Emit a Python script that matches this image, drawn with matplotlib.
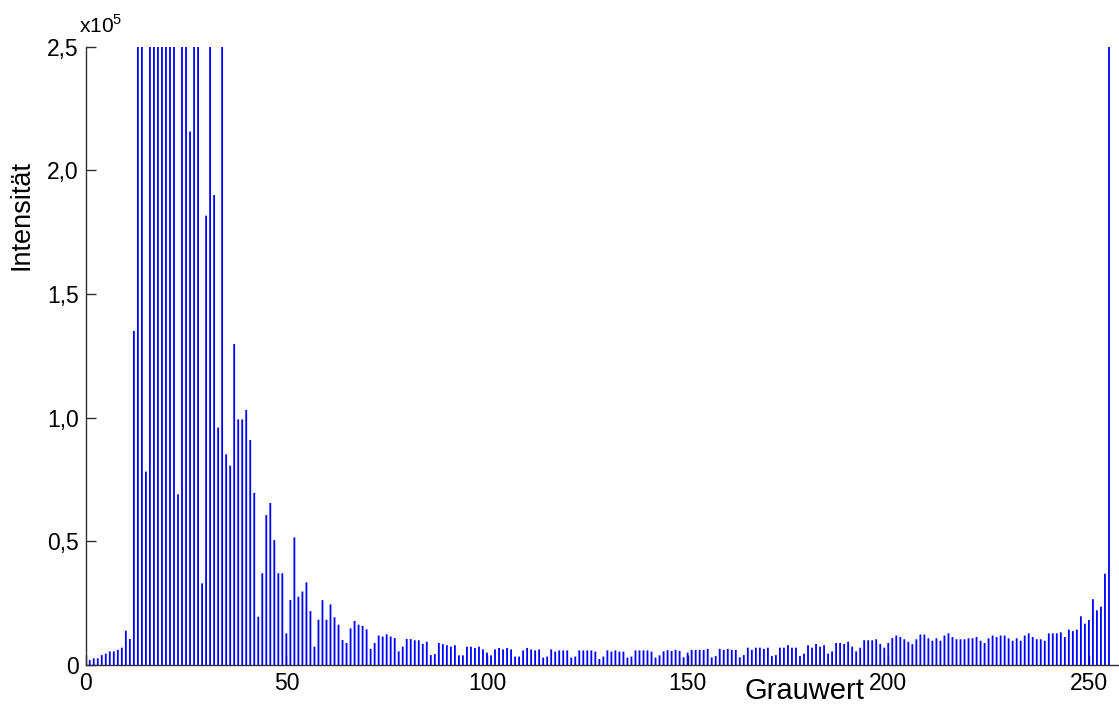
import numpy as np
import matplotlib
matplotlib.use('Agg')
import matplotlib.pyplot as plt

plt.rcParams['font.family'] = ['Liberation Sans', 'DejaVu Sans']

# gray levels 0..255 and their counts (bars above 2,5e5 are cut off by the axis)
grauwert = np.arange(256)
intensitaet = [
    1500, 2000, 2700, 2700, 4000, 4600, 5500, 5500, 6100, 7000, 13900, 10500, 135100, 300000, 290000, 78200,
    330000, 360000, 340000, 310000, 380000, 350000, 320000, 69000, 300000, 280000, 215700, 290000, 270000, 33000, 181700, 260000,
    190000, 96000, 255000, 85200, 80600, 129800, 99300, 99300, 103100, 91000, 69600, 19500, 37100, 60600, 65500, 50500,
    37100, 37100, 12800, 26300, 51600, 27600, 29700, 33400, 21800, 7400, 18300, 26200, 18300, 24500, 19300, 16300,
    10100, 8900, 14800, 17800, 16300, 15800, 14400, 6500, 8900, 11900, 11500, 12400, 11500, 10900, 5500, 7400,
    10500, 10500, 10000, 10000, 8500, 9400, 4000, 4400, 8900, 8400, 8000, 7400, 8000, 3900, 3900, 7400,
    7400, 6900, 7400, 6300, 5000, 3900, 6300, 6900, 6300, 6900, 6300, 3400, 3400, 5900, 6900, 6300,
    5900, 6300, 3000, 3400, 6300, 5400, 5900, 5900, 5900, 3000, 3400, 5900, 5900, 5900, 5900, 5400,
    2400, 3400, 5900, 5400, 5900, 5400, 5400, 3000, 3400, 5900, 5900, 5900, 5900, 5400, 3000, 3900,
    5500, 6000, 5700, 6100, 5700, 3100, 5000, 6100, 6100, 6100, 6100, 6500, 3100, 3600, 6500, 6100,
    6500, 6100, 6100, 3100, 4000, 7000, 6100, 7000, 7000, 6500, 7000, 3600, 4000, 7000, 7000, 8000,
    7000, 7000, 3600, 4600, 8000, 7000, 8500, 7400, 8000, 4600, 5500, 8900, 8900, 8500, 9400, 7400,
    5500, 7000, 10000, 10000, 10000, 10400, 8500, 7000, 8900, 10900, 11900, 11300, 10400, 9400, 8400, 10400,
    12300, 12300, 10800, 9800, 10800, 9800, 11900, 12800, 11300, 10400, 10400, 10400, 10800, 10800, 11300, 9800,
    8900, 10800, 11900, 11300, 11900, 11900, 10800, 9800, 10800, 9800, 11900, 12800, 11300, 10400, 10400, 9800,
    12800, 12800, 12800, 13200, 11300, 14300, 13700, 14300, 19700, 16700, 18200, 26600, 22100, 23600, 36900, 300000,
]

x_ticks = [0, 50, 100, 150, 200, 250]
y_ticks = [0, 50000, 100000, 150000, 200000, 250000]
y_tick_labels = ['0', '0,5', '1,0', '1,5', '2,0', '2,5']

fig = plt.figure(figsize=(11.19, 7.10), dpi=100)
ax = fig.add_axes([0.0766, 0.0634, 0.9234, 0.8708])

bars = ax.bar(grauwert, intensitaet, width=0.45, color='#0000ff', linewidth=0)
for b in bars:
    b.set_snap(False)

ax.set_xlim(0, 257.5)
ax.set_ylim(0, 250000)
ax.set_xticks(x_ticks)
ax.set_xticklabels([str(t) for t in x_ticks])
ax.set_yticks(y_ticks)
ax.set_yticklabels(y_tick_labels)
ax.set_axisbelow(True)

for side in ['top', 'right']:
    ax.spines[side].set_visible(False)
for side in ['left', 'bottom']:
    ax.spines[side].set_color('#303030')
    ax.spines[side].set_linewidth(1.0)

ax.tick_params(direction='in', length=7.5, width=1.0, color='#303030',
               labelsize=16.5, pad=5)

fig.text(79 / 1119, 1 - 33 / 710, r'x10$^{\mathregular{5}}$', fontsize=15,
         ha='left', va='baseline')
fig.text(22 / 1119, 1 - 215 / 710, 'Intensität', rotation=90, fontsize=19.5,
         ha='center', va='center')
fig.text(804 / 1119, 1 - 691 / 710, 'Grauwert', fontsize=21,
         ha='center', va='center')

fig.savefig('out.png', dpi=100)
